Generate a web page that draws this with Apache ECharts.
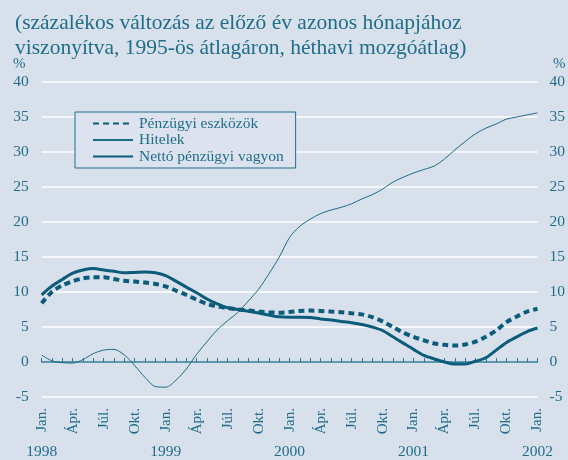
<!DOCTYPE html>
<html>
<head>
<meta charset="utf-8">
<script src="https://cdn.jsdelivr.net/npm/echarts@6/dist/echarts.min.js"></script>
<style>
  html, body { margin: 0; padding: 0; background: #d8e0ec; }
  #chart { width: 568px; height: 460px; }
</style>
</head>
<body>
<div id="chart"></div>
<script>
'use strict';
// evek es negyedeves cimkek
var years = ['1998', '1999', '2000', '2001', '2002'];
var quarterLabels = ['Jan.', 'Ápr.', 'Júl.', 'Okt.'];

// havi ertekek, 1998 jan. - 2002 jan. (49 pont)
var eszkozok = [8.4, 10.05, 10.95, 11.55, 11.95, 12.1, 12.1, 11.85, 11.6, 11.5, 11.35, 11.15,
  10.8, 10.2, 9.6, 8.9, 8.3, 7.95, 7.7, 7.5, 7.35, 7.2, 7.1, 7.05,
  7.15, 7.3, 7.35, 7.3, 7.2, 7.1, 6.95, 6.8, 6.4, 5.8, 5.0, 4.2,
  3.6, 3.1, 2.65, 2.45, 2.35, 2.5, 2.9, 3.6, 4.5, 5.7, 6.5, 7.2,
  7.6];
var hitelek = [1.0, 0.15, -0.1, -0.15, 0.35, 1.2, 1.7, 1.8, 1.0, -0.5, -2.2, -3.5,
  -3.6, -2.6, -1.0, 1.1, 2.9, 4.6, 5.9, 7.1, 8.7, 10.4, 12.6, 15.0,
  17.8, 19.4, 20.4, 21.2, 21.7, 22.1, 22.6, 23.3, 23.9, 24.7, 25.7, 26.4,
  27.0, 27.5, 28.0, 29.0, 30.3, 31.5, 32.6, 33.4, 34.0, 34.7, 35.0, 35.3,
  35.6];
var netto = [9.6, 10.85, 11.8, 12.7, 13.15, 13.35, 13.15, 12.95, 12.75, 12.8, 12.85, 12.75,
  12.35, 11.55, 10.7, 9.9, 9.0, 8.3, 7.75, 7.5, 7.25, 7.0, 6.7, 6.45,
  6.4, 6.4, 6.35, 6.15, 6.0, 5.8, 5.6, 5.35, 5.0, 4.5, 3.6, 2.7,
  1.8, 0.95, 0.45, 0.0, -0.3, -0.3, 0.1, 0.6, 1.7, 2.8, 3.6, 4.35,
  4.85];

var textColor = '#1f6d8a';
var lineColor = '#0b5b7a';
var serif = '"Liberation Serif", "DejaVu Serif", serif';

// kategoriak: minden honap egy pont
var categories = [];
for (var y = 0; y < years.length; y++) {
  for (var m = 0; m < 12; m++) {
    categories.push(years[y] + '-' + (m + 1));
    if (y === years.length - 1) break;
  }
}

var myChart = echarts.init(document.getElementById('chart'));
var option = {
  backgroundColor: '#d8e0ec',
  animation: false,
  title: {
    text: '(százalékos változás az előző év azonos hónapjához\nviszonyítva, 1995-ös átlagáron, héthavi mozgóátlag)',
    left: 10,
    top: 6,
    textStyle: { fontFamily: serif, fontSize: 21.5, fontWeight: 'normal', color: textColor, lineHeight: 25 }
  },
  graphic: [
    { type: 'text', left: 13, top: 57, style: { text: '%', font: '15px ' + serif, fill: textColor } },
    { type: 'text', left: 553, top: 57, style: { text: '%', font: '15px ' + serif, fill: textColor } }
  ],
  legend: {
    orient: 'vertical',
    left: 75,
    top: 112,
    padding: [3.5, 12, 3.5, 17],
    itemWidth: 40,
    itemHeight: 12,
    itemGap: 0.5,
    backgroundColor: '#dce3ee',
    borderColor: '#1f6d8a',
    borderWidth: 1,
    borderRadius: 0,
    itemStyle: { opacity: 0 },
    textStyle: { fontFamily: serif, fontSize: 15.5, lineHeight: 16, color: textColor, padding: [0, 0, 0, 1] },
    data: ['Pénzügyi eszközök', 'Hitelek', 'Nettó pénzügyi vagyon']
  },
  grid: { left: 41.7, right: 28.7, top: 82, bottom: 61.7 },
  xAxis: [{
    type: 'category',
    data: categories,
    boundaryGap: false,
    axisLine: { lineStyle: { color: '#2f7896', width: 1.5 } },
    axisTick: { inside: true, length: 4, interval: 0, lineStyle: { color: '#2f7896' } },
    axisLabel: {
      rotate: 90,
      margin: 11,
      fontFamily: serif,
      fontSize: 15,
      color: textColor,
      interval: function (i) { return i % 3 === 0; },
      formatter: function (v, i) { return quarterLabels[(i / 3) % 4]; }
    },
    splitLine: { show: false }
  }, {
    type: 'category',
    data: categories,
    boundaryGap: false,
    position: 'bottom',
    axisLine: { show: false },
    axisTick: { show: false },
    axisLabel: {
      margin: 47,
      fontFamily: serif,
      fontSize: 15.5,
      color: textColor,
      interval: function (i) { return i % 12 === 0; },
      formatter: function (v, i) { return years[i / 12]; }
    }
  }],
  yAxis: [{
    type: 'value',
    min: -5,
    max: 40,
    interval: 5,
    axisLine: { show: false },
    axisTick: { show: false },
    axisLabel: { margin: 13, fontFamily: serif, fontSize: 15.5, color: textColor },
    splitLine: { lineStyle: { color: '#ffffff', width: 1.6 } }
  }, {
    type: 'value',
    position: 'right',
    min: -5,
    max: 40,
    interval: 5,
    axisLine: { show: false },
    axisTick: { show: false },
    axisLabel: { margin: 12, fontFamily: serif, fontSize: 15.5, color: textColor },
    splitLine: { show: false }
  }],
  series: [{
    name: 'Pénzügyi eszközök',
    type: 'line',
    data: eszkozok,
    symbol: 'none',
    smooth: 0.3,
    lineStyle: { color: lineColor, width: 4, type: [6, 4] },
    itemStyle: { color: lineColor }
  }, {
    name: 'Hitelek',
    type: 'line',
    data: hitelek,
    symbol: 'none',
    smooth: 0.3,
    lineStyle: { color: '#1a6a88', width: 1 },
    itemStyle: { color: '#1a6a88' }
  }, {
    name: 'Nettó pénzügyi vagyon',
    type: 'line',
    data: netto,
    symbol: 'none',
    smooth: 0.3,
    lineStyle: { color: lineColor, width: 3 },
    itemStyle: { color: lineColor }
  }]
};
myChart.setOption(option);
</script>
</body>
</html>
